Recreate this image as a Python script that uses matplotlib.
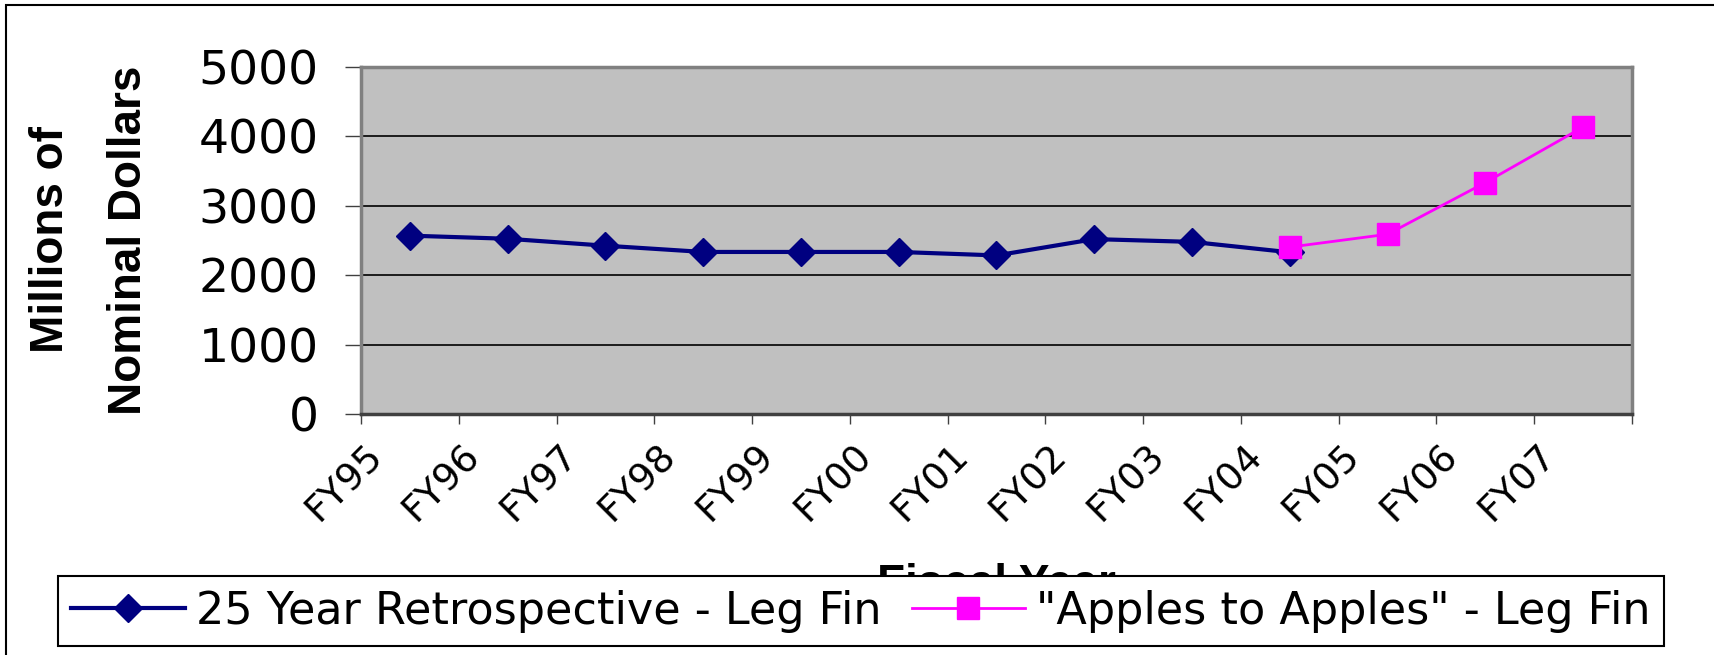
import numpy as np
import matplotlib
matplotlib.use("Agg")
import matplotlib.pyplot as plt
from matplotlib import transforms
from matplotlib.patches import Rectangle

years = ['FY95', 'FY96', 'FY97', 'FY98', 'FY99', 'FY00', 'FY01',
         'FY02', 'FY03', 'FY04', 'FY05', 'FY06', 'FY07']
retro_years = years[:10]
retro_vals = [2570, 2525, 2425, 2335, 2335, 2335, 2285, 2520, 2480, 2330]
apples_years = years[9:]
apples_vals = [2405, 2590, 3335, 4135]
yticks = [0, 1000, 2000, 3000, 4000, 5000]

W, H = 1715, 655
fig = plt.figure(figsize=(W / 100, H / 100), dpi=100)
ax = fig.add_axes((361 / W, 1 - 414 / H, (1632 - 361) / W, (414 - 67) / H))
ax.set_facecolor('#c0c0c0')

# categories sit between the tick marks, like excel
x_retro = [years.index(y) + 0.5 for y in retro_years]
x_apples = [years.index(y) + 0.5 for y in apples_years]

ax.plot(x_retro, retro_vals, color='#000080', lw=3, marker='D', ms=14,
        label='25 Year Retrospective - Leg Fin', zorder=3)
ax.plot(x_apples, apples_vals, color='#ff00ff', lw=2, marker='s', ms=16,
        label='"Apples to Apples" - Leg Fin', zorder=4)

ax.set_xlim(0, len(years))
ax.set_ylim(0, 5000)
ax.set_yticks(yticks)
ax.set_yticklabels([str(v) for v in yticks], family='DejaVu Sans')
ax.yaxis.grid(True, color='black', lw=1.2)
ax.set_axisbelow(True)
ax.set_xticks(np.arange(len(years) + 1))
ax.set_xticklabels([])
ax.tick_params(axis='x', length=7, width=1, direction='out', color='#404040')
ax.tick_params(axis='y', length=11.5, width=1, pad=19, labelsize=34, color='#404040')
for side in ['top', 'right', 'left']:
    ax.spines[side].set_color('#808080')
    ax.spines[side].set_linewidth(2.5)
ax.spines['bottom'].set_color('#404040')
ax.spines['bottom'].set_linewidth(2.5)

# rotated category labels
trans = transforms.blended_transform_factory(ax.transData, ax.transAxes)
off = transforms.offset_copy(trans, fig=fig, x=-33, y=-36, units='dots')
for xi, lab in zip(np.arange(len(years)) + 0.5, years):
    ax.text(xi, 0, lab, transform=off, rotation=45, rotation_mode='anchor',
            ha='right', va='center', fontsize=27, family='DejaVu Sans',
            clip_on=False)

fig.text(90 / W, 1 - 240 / H, 'Millions of\nNominal Dollars', rotation=90,
         ha='center', va='center', fontsize=33, fontweight='bold',
         family='Liberation Sans', linespacing=2.0, multialignment='center')
# mostly hidden behind the legend, as in the original
fig.text(996 / W, 1 - 563 / H, 'Fiscal Year', ha='center', va='top',
         fontsize=33, fontweight='bold', family='Liberation Sans', zorder=1)

leg = fig.legend(loc='lower left', bbox_to_anchor=(58 / W, 9 / H, 1606 / W, 72 / H),
                 bbox_transform=fig.transFigure, mode='expand', ncol=2,
                 prop={'family': 'DejaVu Sans', 'size': 32}, fancybox=False,
                 edgecolor='black', framealpha=1, borderaxespad=0,
                 handlelength=2.55, handletextpad=0.25, columnspacing=0.3,
                 borderpad=0.3)
leg.get_frame().set_linewidth(1.5)

fig.patches.append(Rectangle((6 / W, -0.05), 1.2, 1 - 5 / H + 0.05,
                             transform=fig.transFigure, fill=False,
                             ec='black', lw=1.5))

fig.savefig('out.png', dpi=100)
